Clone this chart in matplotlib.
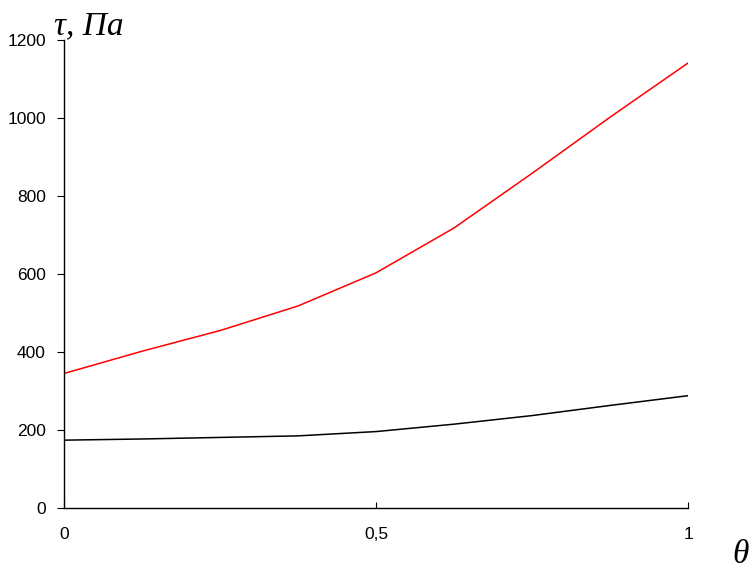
import matplotlib
matplotlib.use('Agg')
import matplotlib.pyplot as plt

# данные
theta = [0, 0.125, 0.25, 0.375, 0.5, 0.625, 0.75, 0.875, 1.0]
tau_red = [345, 402, 455, 518, 603, 718, 858, 1002, 1141]
tau_black = [174, 177, 181, 185, 196, 215, 237, 263, 288]

x_ticks = [0, 0.5, 1]
x_labels = ['0', '0,5', '1']
y_ticks = [0, 200, 400, 600, 800, 1000, 1200]

fig = plt.figure(figsize=(7.52, 5.73), dpi=100)
ax = fig.add_axes([0.0851, 0.1134, 0.8298, 0.8168])

ax.plot(theta, tau_red, color='#ff0000', lw=1.1)
ax.plot(theta, tau_black, color='black', lw=1.1)

ax.set_xlim(0, 1)
ax.set_ylim(0, 1200)
ax.set_xticks(x_ticks)
ax.set_xticklabels(x_labels)
ax.set_yticks(y_ticks)

for s in ('top', 'right'):
    ax.spines[s].set_visible(False)
for s in ('left', 'bottom'):
    ax.spines[s].set_linewidth(1.0)

ax.tick_params(axis='x', direction='in', length=4, pad=14, labelsize=12.5)
ax.tick_params(axis='y', direction='out', length=5, pad=8, labelsize=12.5)
for lab in ax.get_xticklabels() + ax.get_yticklabels():
    lab.set_family('Liberation Sans')

fig.text(54 / 752, 1 - 34 / 573, 'τ, Па', family='Liberation Serif', style='italic',
         fontsize=24, ha='left', va='baseline')
fig.text(741 / 752, 1 - 555 / 573, 'θ', family='Liberation Serif', style='italic',
         fontsize=24, ha='center', va='center')

fig.savefig('out.png', dpi=100)
